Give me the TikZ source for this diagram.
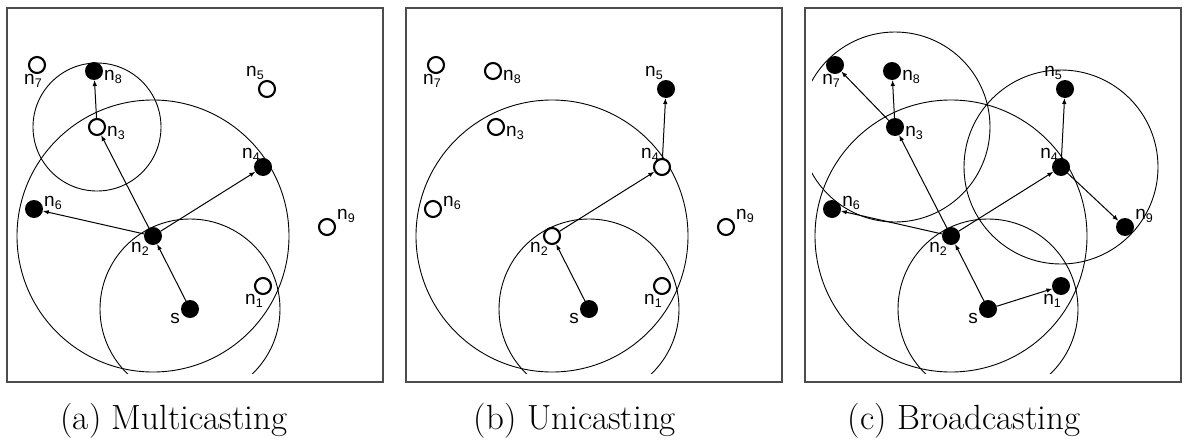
\documentclass[tikz,border=0pt]{standalone}
\usepackage{fontspec}
\newfontfamily\labfont{Liberation Sans}
\usetikzlibrary{arrows.meta}
\newcommand\nsub[1]{n\raisebox{-2.8pt}{\fontsize{12.5}{12.5}\selectfont #1}}
% node positions shared by the three panels
\newcommand\panelcoords[1]{%
  \coordinate (#1-ps)  at (190,309);
  \coordinate (#1-p1) at (263,286);
  \coordinate (#1-p2) at (153,236);
  \coordinate (#1-p3) at (97,127);
  \coordinate (#1-p4) at (263,167);
  \coordinate (#1-p5) at (267,89);
  \coordinate (#1-p6) at (34,209);
  \coordinate (#1-p7) at (37,65);
  \coordinate (#1-p8) at (94,71);
  \coordinate (#1-p9) at (327,227);
}
\newcommand\panelnodes[1]{%
  \node[full] (#1-s)  at (#1-ps) {};
  \node[st1]  (#1-n1) at (#1-p1) {};
  \node[st2]  (#1-n2) at (#1-p2) {};
  \node[st3]  (#1-n3) at (#1-p3) {};
  \node[st4]  (#1-n4) at (#1-p4) {};
  \node[st5]  (#1-n5) at (#1-p5) {};
  \node[st6]  (#1-n6) at (#1-p6) {};
  \node[st7]  (#1-n7) at (#1-p7) {};
  \node[st8]  (#1-n8) at (#1-p8) {};
  \node[st9]  (#1-n9) at (#1-p9) {};
  \node[lab] (#1-ls) at (175,318) {s};
  \node[lab] (#1-l1) at (254,301) {\nsub1};
  \node[lab] (#1-l2) at (140,249) {\nsub2};
  \node[lab] (#1-l3) at (116,133) {\nsub3};
  \node[lab] (#1-l4) at (251,155) {\nsub4};
  \node[lab] (#1-l5) at (255,73) {\nsub5};
  \node[lab] (#1-l6) at (53,203) {\nsub6};
  \node[lab] (#1-l7) at (33,81) {\nsub7};
  \node[lab] (#1-l8) at (113,77) {\nsub8};
  \node[lab] (#1-l9) at (346,216) {\nsub9};
  \draw[frame] (7,8) rectangle (383,382);
}
\begin{document}
\begin{tikzpicture}[x=1pt,y=-1pt,
  full/.style={circle,fill=black,minimum size=18pt,inner sep=0pt,outer sep=0pt},
  hollow/.style={circle,draw=black,line width=2.1pt,fill=white,minimum size=16pt,inner sep=0pt},
  lab/.style={font=\labfont\fontsize{19}{19}\selectfont,inner sep=0pt},
  arr/.style={line width=1pt,-{Latex[length=6pt,width=4.5pt]}},
  rng/.style={line width=0.9pt},
  frame/.style={line width=1.4pt,draw=black!70},
  captxt/.style={font=\fontsize{35}{40}\selectfont,anchor=base,inner sep=0pt}]
\useasboundingbox (0,0) rectangle (1191,439);

% ---------- (a) Multicasting
\begin{scope}[st1/.style=hollow,st2/.style=full,st3/.style=hollow,st4/.style=full,
  st5/.style=hollow,st6/.style=full,st7/.style=hollow,st8/.style=full,st9/.style=hollow]
  \panelcoords{a}
  \begin{scope}
    \clip (14,16) rectangle (376,373);
    \draw[rng] (a-p3) circle[radius=64pt];
    \draw[rng] (a-p2) circle[radius=136pt];
    \draw[rng] (a-ps) circle[radius=90pt];
  \end{scope}
  \panelnodes{a}
  \draw[arr] (a-s) -- (a-n2);
  \draw[arr] (a-n2) -- (a-n3);
  \draw[arr] (a-n2) -- (a-n4);
  \draw[arr] (a-n2) -- (a-n6);
  \draw[arr] (a-n3) -- (a-n8);
\end{scope}

% ---------- (b) Unicasting
\begin{scope}[xshift=399pt,st1/.style=hollow,st2/.style=hollow,st3/.style=hollow,st4/.style=hollow,
  st5/.style=full,st6/.style=hollow,st7/.style=hollow,st8/.style=hollow,st9/.style=hollow]
  \panelcoords{b}
  \begin{scope}
    \clip (14,16) rectangle (376,373);
    \draw[rng] (b-p2) circle[radius=136pt];
    \draw[rng] (b-ps) circle[radius=90pt];
  \end{scope}
  \panelnodes{b}
  \draw[arr] (b-s) -- (b-n2);
  \draw[arr] (b-n2) -- (b-n4);
  \draw[arr] (b-n4) -- (b-n5);
\end{scope}

% ---------- (c) Broadcasting
\begin{scope}[xshift=798pt,st1/.style=full,st2/.style=full,st3/.style=full,st4/.style=full,
  st5/.style=full,st6/.style=full,st7/.style=full,st8/.style=full,st9/.style=full]
  \panelcoords{c}
  \begin{scope}
    \clip (14,16) rectangle (376,373);
    \draw[rng] (c-p3) circle[radius=95pt];
    \draw[rng] (c-p4) circle[radius=97pt];
    \draw[rng] (c-p2) circle[radius=136pt];
    \draw[rng] (c-ps) circle[radius=90pt];
  \end{scope}
  \panelnodes{c}
  \draw[arr] (c-s) -- (c-n2);
  \draw[arr] (c-s) -- (c-n1);
  \draw[arr] (c-n2) -- (c-n3);
  \draw[arr] (c-n2) -- (c-n4);
  \draw[arr] (c-n2) -- (c-n6);
  \draw[arr] (c-n3) -- (c-n7);
  \draw[arr] (c-n3) -- (c-n8);
  \draw[arr] (c-n4) -- (c-n5);
  \draw[arr] (c-n4) -- (c-n9);
\end{scope}

\node[captxt] (capa) at (174,429) {(a) Multicasting};
\node[captxt] (capb) at (575,429) {(b) Unicasting};
\node[captxt] (capc) at (964,429) {(c) Broadcasting};
\end{tikzpicture}
\end{document}
